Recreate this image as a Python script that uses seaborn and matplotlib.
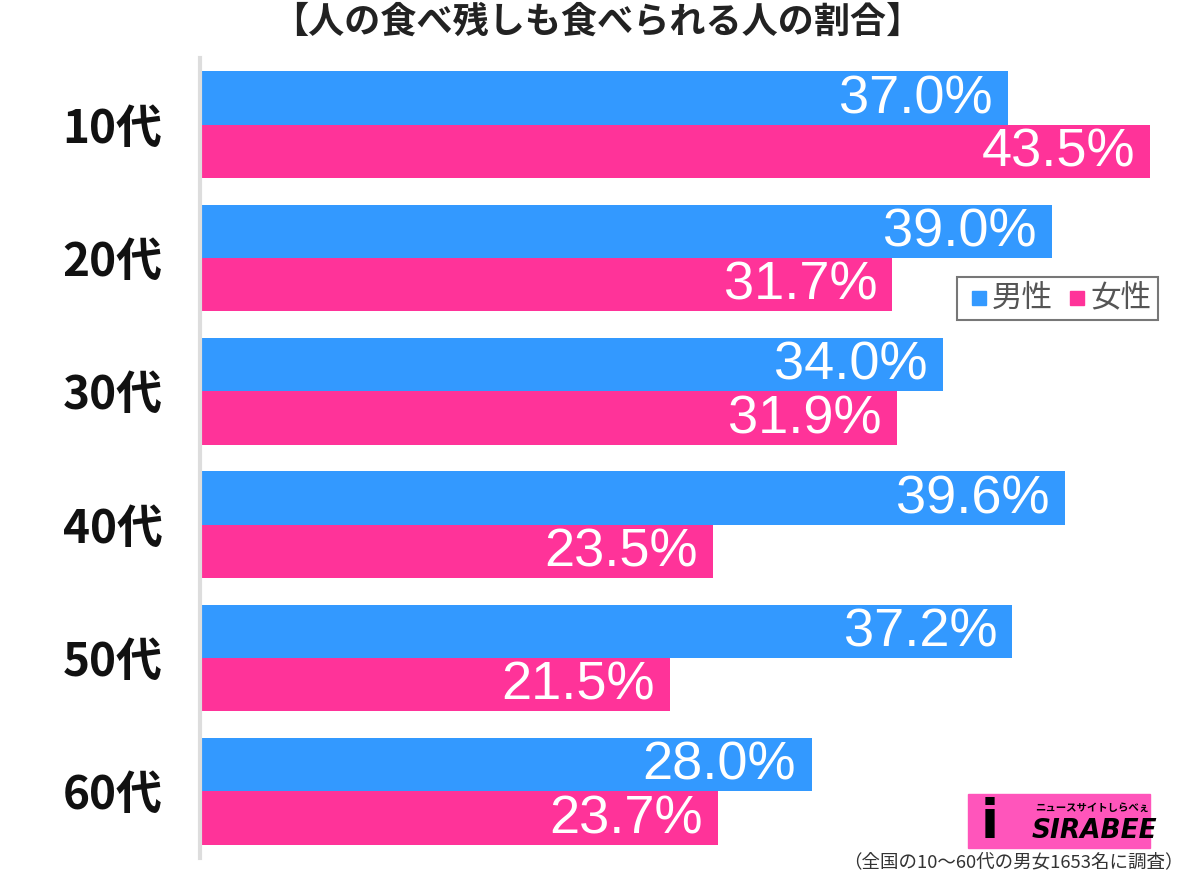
import matplotlib
matplotlib.use("Agg")
import matplotlib.pyplot as plt
import seaborn as sns
import pandas as pd
from matplotlib.patches import Rectangle

sns.set_theme(style="white")
plt.rcParams['font.family'] = ['Noto Sans CJK JP', 'DejaVu Sans']

categories = ["10代", "20代", "30代", "40代", "50代", "60代"]
male = [37.0, 39.0, 34.0, 39.6, 37.2, 28.0]
female = [43.5, 31.7, 31.9, 23.5, 21.5, 23.7]
series = ["男性", "女性"]
colors = {"男性": "#3399ff", "女性": "#ff3399"}

df = pd.DataFrame({
    "age": categories * 2,
    "value": male + female,
    "sex": [series[0]] * len(categories) + [series[1]] * len(categories),
})

fig = plt.figure(figsize=(12, 8.74), dpi=100)
ax = fig.add_axes([200/1200, 16/874, 980/1200, 800/874])

sns.barplot(data=df, y="age", x="value", hue="sex", order=categories,
            hue_order=series, palette=colors, orient="h", width=0.8,
            saturation=1, ax=ax, legend=False, linewidth=0, edgecolor="none")

for cont in ax.containers:
    for bar in cont:
        w = bar.get_width()
        y = bar.get_y() + bar.get_height() / 2
        ax.text(w - 0.7, y + 0.01, f"{w:.1f}%", ha="right", va="center",
                color="white", fontsize=39, family=['Liberation Sans', 'DejaVu Sans'])

ax.set_xlim(0, 980/21.84)
ax.set_ylim(5.5, -0.5)
ax.set_xlabel("")
ax.set_ylabel("")
ax.set_xticks([])
ax.tick_params(axis="y", length=0, pad=27, labelsize=33)
for lbl in ax.get_yticklabels():
    lbl.set_fontweight("bold")
    lbl.set_color("#111111")
for s in ["top", "right", "bottom"]:
    ax.spines[s].set_visible(False)
ax.spines["left"].set_color("#dddddd")
ax.spines["left"].set_linewidth(3)

fig.text(597/1200, 1 - 22/874, "【人の食べ残しも食べられる人の割合】", ha="center", va="center",
         fontsize=26, fontweight="bold", color="#222222")

# legend
fig.patches.append(Rectangle((957/1200, 1 - 320/874), 201/1200, 43/874,
                             transform=fig.transFigure, fill=False,
                             edgecolor="#777777", linewidth=1.5))
fig.patches.append(Rectangle((972/1200, 1 - 305/874), 14/1200, 14/874,
                             transform=fig.transFigure, color=colors["男性"]))
fig.text(992/1200, 1 - 298/874, "男性", fontsize=22, color="#555555", va="center")
fig.patches.append(Rectangle((1070/1200, 1 - 305/874), 14/1200, 14/874,
                             transform=fig.transFigure, color=colors["女性"]))
fig.text(1090/1200, 1 - 298/874, "女性", fontsize=22, color="#555555", va="center")

# logo
fig.patches.append(Rectangle((968/1200, 1 - 848/874), 182/1200, 54/874,
                             transform=fig.transFigure, color="#ff55bb"))
fig.text(1092/1200, 1 - 808/874, "ニュースサイトしらべぇ", fontsize=7.5, fontweight="bold",
         color="black", ha="center", va="center")
fig.text(1094/1200, 1 - 831/874, "SIRABEE", fontsize=19, fontweight="black",
         style="italic", color="black", ha="center", va="center",
         family=['DejaVu Sans'])
fig.text(990/1200, 1 - 823/874, "i", fontsize=38, fontweight="black",
         color="black", ha="center", va="center", family=['DejaVu Sans'])

fig.text(1184/1200, 1 - 862/874, "（全国の10〜60代の男女1653名に調査）", fontsize=13.3,
         color="#333333", ha="right", va="center")

fig.savefig("out.png", dpi=100)
